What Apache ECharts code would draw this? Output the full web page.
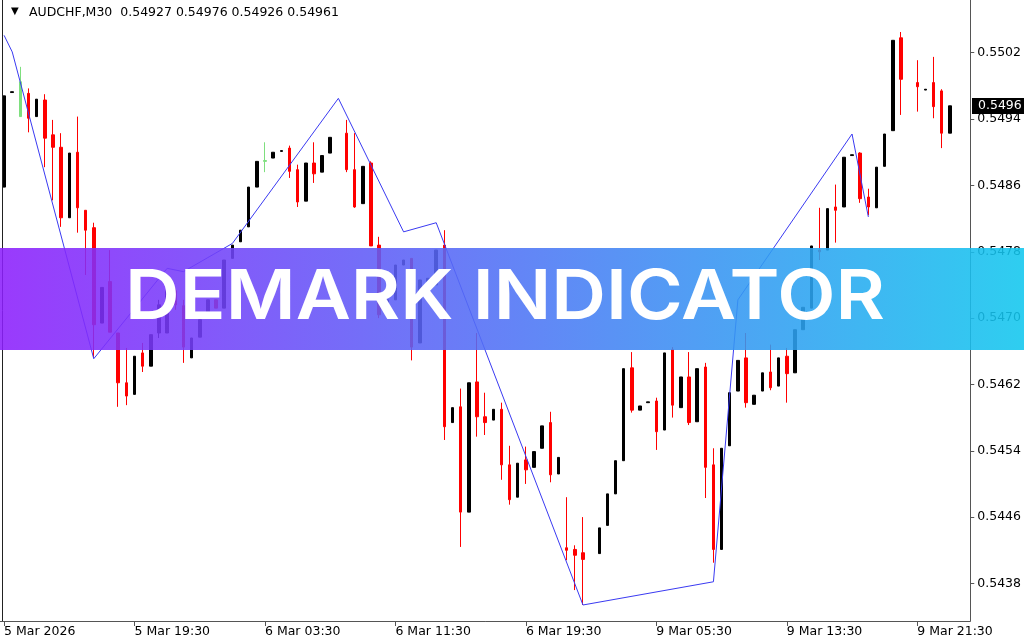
<!DOCTYPE html>
<html><head><meta charset="utf-8">
<script src="https://cdn.jsdelivr.net/npm/echarts@6/dist/echarts.min.js"></script>
<style>html,body{margin:0;padding:0;background:#fff}#c{width:1024px;height:640px}</style>
</head><body><div id="c"></div>
<script>
// ---------- data ----------
const headerSymbol = "▼";
const headerText = "AUDCHF,M30  0.54927 0.54976 0.54926 0.54961";
const bannerText = "DEMARK INDICATOR";
const firstDateLabel = "5 Mar 2026";

const priceMax = 0.550836;
const priceMin = 0.543347;
const yTicks = [0.5438, 0.5446, 0.5454, 0.5462, 0.5470, 0.5478, 0.5486, 0.5494, 0.5502];

const opens = [0.54858,0.54972,0.54943,0.54971,0.54943,0.54963,0.54921,0.54906,0.54821,0.54900,
0.54830,0.54809,0.54694,0.54744,0.54682,0.54622,0.54608,0.54658,0.54642,0.54682,
0.54682,0.54733,0.54715,0.54652,0.54677,0.54707,0.54722,0.54712,0.54772,0.54792,
0.54810,0.54858,0.54889,0.54893,0.54901,0.54905,0.54879,0.54841,0.54887,0.54876,
0.54899,null,0.54923,0.54879,0.54838,0.54887,0.54788,0.54702,0.54722,0.54764,
0.54772,0.54670,0.54736,0.54740,0.54788,0.54574,0.54593,0.54466,0.54623,0.54581,
0.54577,0.54590,0.54523,0.54484,0.54529,0.54520,0.54543,0.54574,0.54512,0.54423,
0.54421,0.54417,null,0.54416,0.54450,0.54488,0.54528,0.54640,0.54589,0.54598,
0.54600,0.54565,0.54662,0.54592,0.54629,0.54575,0.54641,0.54523,0.54421,0.54546,
0.54612,0.54652,0.54596,0.54612,0.54635,0.54618,0.54654,0.54634,0.54686,0.54712,
0.54782,0.54782,0.54834,0.54834,0.54896,0.54899,0.54846,0.54833,0.54883,0.54926,
0.55038,null,0.54984,0.54975,0.54984,0.54974,0.54923];
const closes = [0.54968,0.54973,0.54985,0.54941,0.54964,0.54917,0.54906,0.54821,0.54899,0.54833,
0.54806,0.54692,0.54737,0.54683,0.54622,0.54606,0.54654,0.54642,0.54680,0.54716,
0.54733,0.54716,0.54665,0.54676,0.54698,0.54722,0.54712,0.54770,0.54788,0.54806,
0.54858,0.54889,0.54890,0.54900,0.54902,0.54877,0.54840,0.54887,0.54874,0.54896,
0.54918,null,0.54879,0.54834,0.54883,0.54787,0.54704,0.54722,0.54764,0.54770,
0.54665,0.54746,0.54748,0.54782,0.54569,0.54592,0.54466,0.54622,0.54581,0.54574,
0.54590,0.54523,0.54481,0.54525,0.54517,0.54539,0.54570,0.54511,0.54532,0.54420,
0.54414,0.54409,null,0.54447,0.54488,0.54528,0.54639,0.54589,0.54594,0.54599,
0.54563,0.54658,0.54595,0.54629,0.54574,0.54639,0.54520,0.54421,0.54543,0.54610,
0.54649,0.54598,0.54607,0.54634,0.54616,0.54652,0.54633,0.54686,0.54713,0.54787,
0.54780,0.54832,0.54830,0.54894,0.54897,0.54844,0.54834,0.54882,0.54922,0.55035,
0.54988,null,0.54979,0.54976,0.54955,0.54923,0.54956];
const lows = [0.54858,0.54972,0.54943,0.54924,0.54943,0.54882,0.54842,0.54810,0.54821,0.54803,
0.54752,0.54652,0.54694,0.54683,0.54593,0.54595,0.54608,0.54635,0.54642,0.54676,
0.54682,0.54710,0.54646,0.54652,0.54677,0.54707,0.54712,0.54712,0.54772,0.54792,
0.54810,0.54858,0.54876,0.54893,0.54901,0.54869,0.54834,0.54841,0.54863,0.54876,
0.54899,null,0.54876,0.54833,0.54838,0.54787,0.54700,0.54702,0.54722,0.54764,
0.54649,0.54670,0.54736,0.54740,0.54553,0.54574,0.54424,0.54466,0.54557,0.54559,
0.54577,0.54505,0.54475,0.54484,0.54500,0.54520,0.54543,0.54502,0.54512,0.54408,
0.54372,0.54354,null,0.54416,0.54450,0.54488,0.54528,0.54586,0.54589,0.54598,
0.54541,0.54565,0.54580,0.54592,0.54571,0.54575,0.54483,0.54405,0.54421,0.54546,
0.54612,0.54592,0.54596,0.54612,0.54613,0.54618,0.54598,0.54634,0.54686,0.54712,
0.54770,0.54782,0.54791,0.54834,0.54896,0.54839,0.54824,0.54833,0.54883,0.54926,
0.54945,null,0.54949,0.54975,0.54941,0.54905,0.54923];
const highs = [0.54968,0.54973,0.55003,0.54977,0.54964,0.54970,0.54939,0.54923,0.54899,0.54943,
0.54830,0.54815,0.54737,0.54782,0.54682,0.54664,0.54654,0.54670,0.54680,0.54722,
0.54733,0.54736,0.54722,0.54676,0.54698,0.54722,0.54722,0.54770,0.54788,0.54806,
0.54858,0.54889,0.54912,0.54900,0.54902,0.54908,0.54885,0.54887,0.54912,0.54896,
0.54918,null,0.54939,0.54923,0.54883,0.54889,0.54798,0.54722,0.54764,0.54770,
0.54772,0.54746,0.54748,0.54782,0.54806,0.54592,0.54615,0.54622,0.54682,0.54610,
0.54590,0.54598,0.54546,0.54525,0.54545,0.54539,0.54570,0.54587,0.54532,0.54484,
0.54426,0.54460,null,0.54447,0.54488,0.54528,0.54639,0.54659,0.54594,0.54599,
0.54604,0.54658,0.54665,0.54629,0.54659,0.54639,0.54646,0.54543,0.54543,0.54610,
0.54649,0.54682,0.54607,0.54634,0.54668,0.54652,0.54664,0.54686,0.54713,0.54787,
0.54833,0.54832,0.54861,0.54894,0.54897,0.54900,0.54856,0.54882,0.54922,0.55035,
0.55045,null,0.55011,0.54976,0.55015,0.54976,0.54956];
const greenBars = [2, 32];

const zigzagIndex = [0, 1, 11, 20, 22, 28, 41, 49, 53, 71, 87, 90, 104, 106];
const zigzagPrice = [0.55041, 0.55021, 0.54651, 0.54760, 0.54756, 0.54790, 0.54965, 0.54804, 0.54815, 0.54354, 0.54382, 0.54722, 0.54922, 0.54822];

// time categories (M30 bars): Thu 5 Mar 11:30 .. Fri 6 Mar 21:30, then Mon 9 Mar 00:00 ..
const sessions = [{day: 5, startMin: 11*60+30, count: 25}, {day: 6, startMin: 0, count: 44}, {day: 9, startMin: 0, count: 50}];
const categories = [];
sessions.forEach(s => {
  for (let k = 0; k < s.count; k++) {
    const m = s.startMin + 30*k;
    const hh = String(Math.floor(m/60)).padStart(2,'0'), mm = String(m%60).padStart(2,'0');
    categories.push(s.day + " Mar " + hh + ":" + mm);
  }
});

// ---------- build ----------
const candleData = opens.map((o, i) => {
  if (o === null) return ['-','-','-','-'];
  const v = [o, closes[i], lows[i], highs[i]];
  if (greenBars.includes(i)) {
    const g = '#7edf7e';
    return {value: v, itemStyle: {color: g, color0: g, borderColor: g, borderColor0: g}};
  }
  return v;
});
const zigzagData = zigzagIndex.map((ix, k) => [ix, zigzagPrice[k]]);
let lastClose = null;
for (let i = closes.length - 1; i >= 0; i--) { if (closes[i] !== null) { lastClose = closes[i]; break; } }

const FONT = 'DejaVu Sans';
const bannerFont = '600 69px Inter';
const mc = document.createElement('canvas').getContext('2d');
mc.font = bannerFont;
const bannerScale = 760 / mc.measureText(bannerText).width;

const chart = echarts.init(document.getElementById('c'), null, {renderer: 'canvas'});
const baseGraphics = [
  {id: 'frameLeft', type: 'line', shape: {x1: 2.5, y1: 0, x2: 2.5, y2: 621}, style: {stroke: '#222', lineWidth: 1}, z: 10},
  {id: 'banner', type: 'rect', x: 0, y: 248, shape: {width: 1024, height: 102},
    style: {fill: new echarts.graphic.LinearGradient(0, 0, 1, 0, [
      {offset: 0, color: '#8c1ffc'}, {offset: 1, color: '#12c7ee'}]), opacity: 0.88}, z: 100},
  {id: 'bannerText', type: 'text', x: 505, y: 298, scaleX: bannerScale, z: 101,
    style: {text: bannerText, fill: '#ffffff', font: bannerFont, textAlign: 'center', textVerticalAlign: 'middle', align: 'center', verticalAlign: 'middle'}}
];
chart.setOption({
  animation: false,
  backgroundColor: '#ffffff',
  title: [
    {text: headerSymbol, left: 6, top: 1, textStyle: {fontFamily: FONT, fontSize: 10, fontWeight: 'normal', color: '#000'}},
    {text: headerText, left: 24, top: 1, textStyle: {fontFamily: FONT, fontSize: 12.5, fontWeight: 'normal', color: '#000'}}
  ],
  grid: {left: 0, right: 53, top: 0, bottom: 19, containLabel: false},
  xAxis: {
    type: 'category', data: categories, boundaryGap: true,
    axisLine: {show: true, lineStyle: {color: '#555', width: 1}},
    axisTick: {show: true, interval: 15, alignWithLabel: true, length: 5, lineStyle: {color: '#555'}},
    axisLabel: {interval: 15, align: 'left', margin: 4, fontFamily: FONT, fontSize: 12.5, color: '#000',
      formatter: (v, i) => i === 0 ? firstDateLabel : v},
    splitLine: {show: false}
  },
  yAxis: {
    type: 'value', position: 'right', min: priceMin, max: priceMax, scale: true,
    axisLine: {show: true, lineStyle: {color: '#555', width: 1}},
    axisTick: {show: true, length: 4, customValues: yTicks, lineStyle: {color: '#555'}},
    axisLabel: {customValues: yTicks, margin: 7, fontFamily: FONT, fontSize: 12.5, color: '#000',
      formatter: v => Number(v).toFixed(4)},
    splitLine: {show: false}
  },
  series: [
    {
      type: 'candlestick', data: candleData, barWidth: 3,
      itemStyle: {color: '#000000', color0: '#ff0000', borderColor: '#000000', borderColor0: '#ff0000', borderWidth: 1},
      z: 2
    },
    {
      type: 'line', data: zigzagData, symbol: 'none', showSymbol: false,
      lineStyle: {color: '#3a3af2', width: 1}, z: 3, silent: true
    }
  ],
  graphic: baseGraphics
});

// current price tag positioned through the value axis
const py = chart.convertToPixel({yAxisIndex: 0}, lastClose);
chart.setOption({
  graphic: baseGraphics.concat([
    {id: 'priceTag', type: 'group', x: 972, y: Math.round(py) - 8, z: 50, children: [
      {type: 'rect', shape: {x: 0, y: 0, width: 52, height: 16}, style: {fill: '#000'}},
      {type: 'text', x: 6, y: 8, style: {text: lastClose.toFixed(4), fill: '#fff', font: '12.5px "DejaVu Sans"', verticalAlign: 'middle', textVerticalAlign: 'middle'}}
    ]}
  ])
});
</script>
</body></html>
